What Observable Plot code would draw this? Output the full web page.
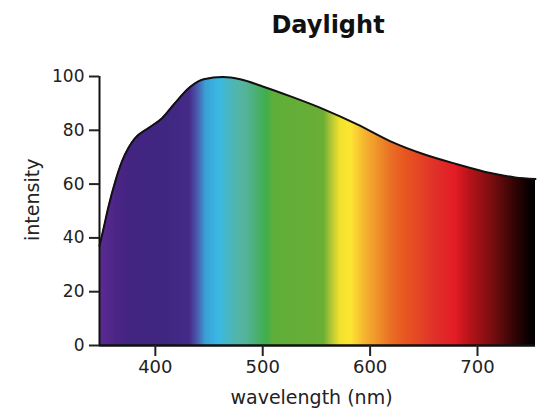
<!DOCTYPE html>
<html>
<head>
<meta charset="utf-8">
<script src="https://cdn.jsdelivr.net/npm/d3@7"></script>
<script src="https://cdn.jsdelivr.net/npm/@observablehq/plot@0.6"></script>
<style>
  html, body { margin: 0; padding: 0; background: #fff; }
  #wrap { width: 539px; height: 413px; overflow: hidden; }
  #title { height: 50px; box-sizing: border-box; padding-left: 117px; padding-top: 11px; text-align: center;
           font-family: "DejaVu Sans", sans-serif; font-weight: bold; font-size: 24px; color: #111; line-height: 28px; }
</style>
</head>
<body>
<div id="wrap">
  <div id="title">Daylight</div>
  <div id="chart"></div>
</div>
<script>
// Spectrum intensity curve (wavelength in nm, relative intensity)
const wavelengths = [348, 351.5, 356, 362.7, 369, 375, 381, 393.5, 406.5, 417, 432, 445, 463, 479, 500, 526, 557, 588, 619, 650, 681, 712, 735, 754];
const intensities = [37, 43, 51, 61, 68.5, 73.5, 77, 80.8, 84.6, 89.5, 96, 99, 99.8, 99, 96.3, 92.6, 87.8, 82.2, 75.9, 71.1, 67.4, 64.1, 62.5, 61.9];

// Colour stops of the spectrum fill (wavelength in nm)
const stopWavelengths = [348, 365, 377, 410, 432, 440, 447, 459, 475, 484, 504, 510, 557, 563, 572, 582, 594, 610, 619, 633, 661, 680, 695, 714, 733, 748, 754];
const stopColors = ["#5b2b92", "#4a2585", "#432482", "#3f2781", "#452a88", "#4a5fb0", "#3a9fd6", "#3ab8e4", "#4fb6ac", "#55b39c", "#3fae4a", "#5fae3a", "#6aae35", "#a8c236", "#f1e12c", "#fde634", "#f6b830", "#ee8a28", "#ea7025", "#e8561f", "#e0302a", "#e31b25", "#b01318", "#7a0d10", "#380505", "#0a0000", "#000000"];

const xDomain = [348, 754];
const yDomain = [0, 100];
const xTicks = [400, 500, 600, 700];
const yTicks = [0, 20, 40, 60, 80, 100];
const xLabel = "wavelength (nm)";
const yLabel = "intensity";

const data = wavelengths.map((w, i) => ({w, v: intensities[i]}));

const plot = Plot.plot({
  width: 539,
  height: 363,
  marginLeft: 99,
  marginRight: 4,
  marginTop: 26,
  marginBottom: 68,
  style: {fontFamily: "DejaVu Sans, sans-serif", color: "#222", background: "white", overflow: "visible"},
  x: {domain: xDomain},
  y: {domain: yDomain},
  marks: [
    Plot.areaY(data, {x: "w", y: "v", fill: "url(#spectrum)", curve: "monotone-x"}),
    Plot.lineY(data, {x: "w", y: "v", stroke: "#111", strokeWidth: 2, curve: "monotone-x"}),
    Plot.ruleY([yDomain[0]], {stroke: "#111", strokeWidth: 2.5}),
    Plot.ruleX([xDomain[0]], {stroke: "#111", strokeWidth: 2}),
    Plot.axisX({ticks: xTicks, tickSize: 11, tickPadding: 4, fontSize: 18, strokeWidth: 2, label: null}),
    Plot.axisY({ticks: yTicks, tickSize: 10, tickPadding: 5, fontSize: 17, strokeWidth: 2, label: null}),
    Plot.text([xLabel], {frameAnchor: "bottom", dy: 58, dx: -6, fontSize: 19, fill: "#222", letterSpacing: "1.7px"}),
    Plot.text([yLabel], {frameAnchor: "left", rotate: -90, dx: -67, dy: 30, fontSize: 19, fill: "#222"})
  ]
});

// Build the spectrum gradient in user space, positioned by the plot's x scale
const xs = plot.scale("x");
const svg = d3.select(plot);
const defs = svg.insert("defs", ":first-child");
const x0 = xs.apply(xDomain[0]), x1 = xs.apply(xDomain[1]);
const grad = defs.append("linearGradient")
  .attr("id", "spectrum")
  .attr("gradientUnits", "userSpaceOnUse")
  .attr("x1", x0).attr("x2", x1)
  .attr("y1", 0).attr("y2", 0);
stopWavelengths.forEach((w, i) => {
  grad.append("stop")
    .attr("offset", ((xs.apply(w) - x0) / (x1 - x0)).toFixed(4))
    .attr("stop-color", stopColors[i]);
});

document.getElementById("chart").appendChild(plot);
</script>
</body>
</html>
